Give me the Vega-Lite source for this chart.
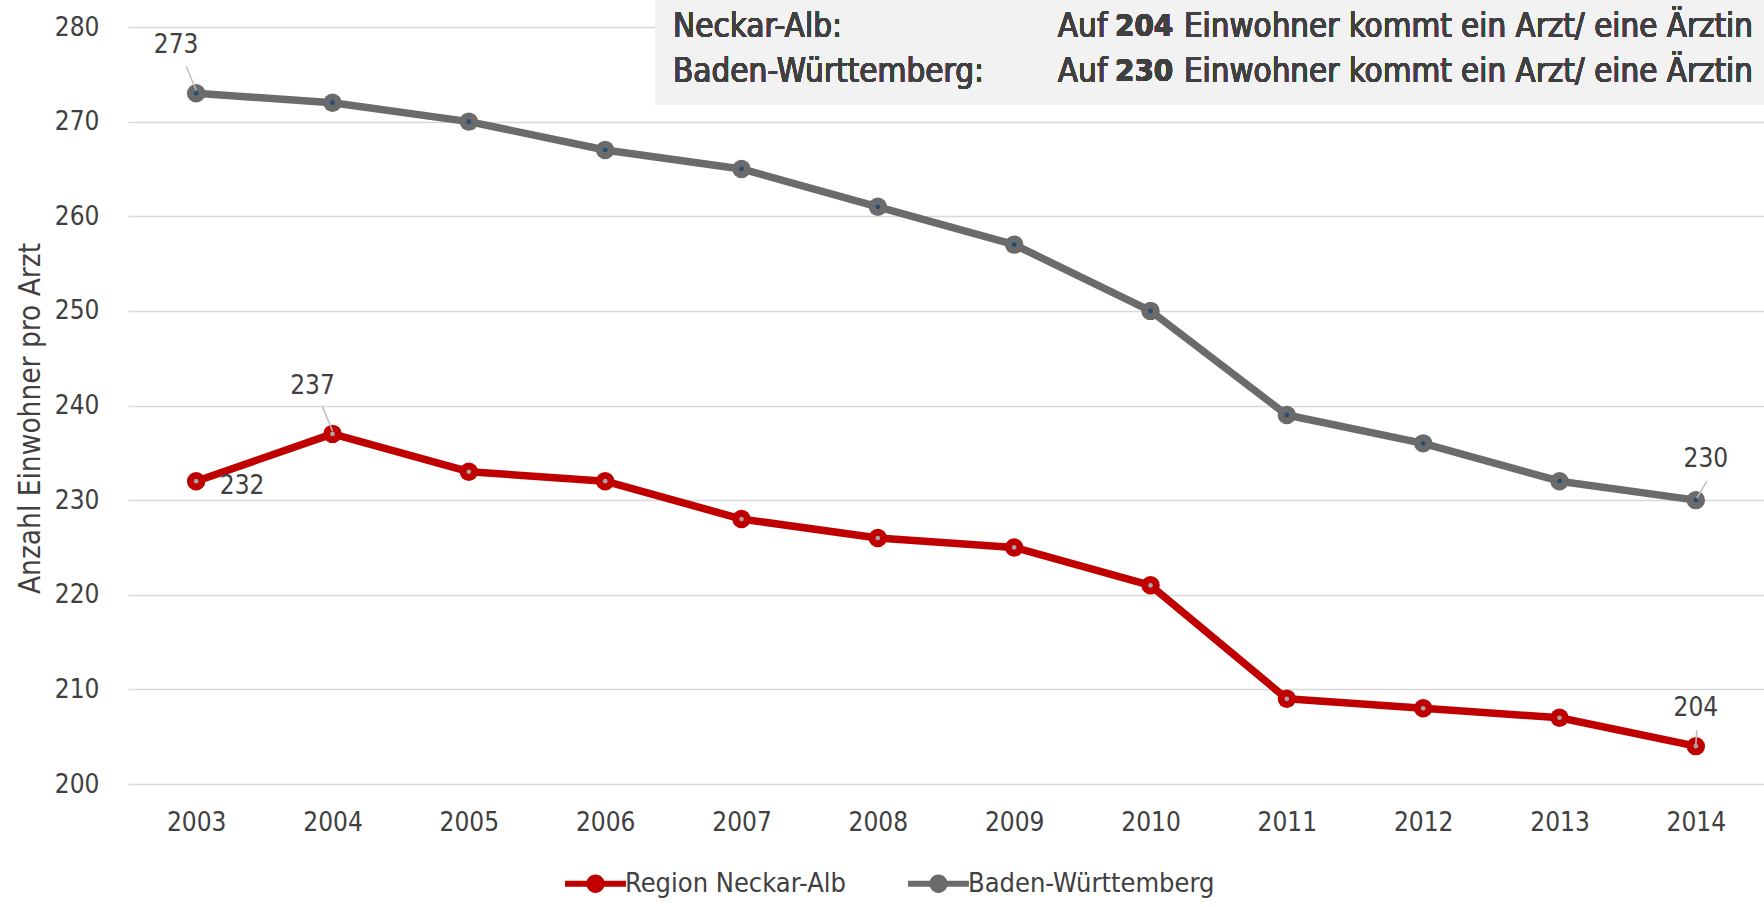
{
  "$schema": "https://vega.github.io/schema/vega-lite/v6.json",
  "width": 1636,
  "height": 757,
  "autosize": "none",
  "padding": {"left": 128, "top": 27, "right": 0, "bottom": 123},
  "background": "white",
  "config": {
    "font": "DejaVu Sans Condensed, sans-serif",
    "view": {"stroke": null},
    "axis": {"labelFont": "DejaVu Sans Condensed, sans-serif", "titleFont": "DejaVu Sans Condensed, sans-serif", "labelColor": "#404040", "titleColor": "#404040"}
  },
  "data": {
    "values": [
      {"year": 2003, "series": "Region Neckar-Alb", "value": 232},
      {"year": 2004, "series": "Region Neckar-Alb", "value": 237},
      {"year": 2005, "series": "Region Neckar-Alb", "value": 233},
      {"year": 2006, "series": "Region Neckar-Alb", "value": 232},
      {"year": 2007, "series": "Region Neckar-Alb", "value": 228},
      {"year": 2008, "series": "Region Neckar-Alb", "value": 226},
      {"year": 2009, "series": "Region Neckar-Alb", "value": 225},
      {"year": 2010, "series": "Region Neckar-Alb", "value": 221},
      {"year": 2011, "series": "Region Neckar-Alb", "value": 209},
      {"year": 2012, "series": "Region Neckar-Alb", "value": 208},
      {"year": 2013, "series": "Region Neckar-Alb", "value": 207},
      {"year": 2014, "series": "Region Neckar-Alb", "value": 204},
      {"year": 2003, "series": "Baden-Württemberg", "value": 273},
      {"year": 2004, "series": "Baden-Württemberg", "value": 272},
      {"year": 2005, "series": "Baden-Württemberg", "value": 270},
      {"year": 2006, "series": "Baden-Württemberg", "value": 267},
      {"year": 2007, "series": "Baden-Württemberg", "value": 265},
      {"year": 2008, "series": "Baden-Württemberg", "value": 261},
      {"year": 2009, "series": "Baden-Württemberg", "value": 257},
      {"year": 2010, "series": "Baden-Württemberg", "value": 250},
      {"year": 2011, "series": "Baden-Württemberg", "value": 239},
      {"year": 2012, "series": "Baden-Württemberg", "value": 236},
      {"year": 2013, "series": "Baden-Württemberg", "value": 232},
      {"year": 2014, "series": "Baden-Württemberg", "value": 230}
    ]
  },
  "encoding": {
    "x": {"field": "year", "type": "quantitative",
      "scale": {"domain": [2002.5, 2014.5], "nice": false, "zero": false},
      "axis": {"values": [2003,2004,2005,2006,2007,2008,2009,2010,2011,2012,2013,2014], "format": "d", "grid": false, "domain": false, "ticks": false, "labelFontSize": 26, "labelPadding": 25, "title": null, "labelFlush": false}},
    "y": {"field": "value", "type": "quantitative",
      "scale": {"domain": [200, 280], "nice": false, "zero": false},
      "axis": {"values": [200,210,220,230,240,250,260,270,280], "grid": true, "gridColor": "#d9d9d9", "gridWidth": 1.5, "domain": false, "ticks": false, "labelFontSize": 26, "labelPadding": 29, "title": "Anzahl Einwohner pro Arzt", "titleFontSize": 29.5, "titleFontWeight": "normal", "titlePadding": 9, "titleY": 391, "titleAlign": "center"}}
  },
  "layer": [
    {
      "mark": {"type": "rect", "color": "#f2f2f2"},
      "encoding": {
        "x": {"datum": 2006.366},
        "x2": {"datum": 2014.5},
        "y": {"datum": 283},
        "y2": {"datum": 271.76}
      }
    },
    {
      "mark": {"type": "text", "align": "left", "baseline": "middle", "fontSize": 33, "color": "#404040", "lineHeight": 45},
      "encoding": {
        "x": {"datum": 2006.497},
        "y": {"datum": 280},
        "text": {"value": ["Neckar-Alb:", "Baden-Württemberg:"]}
      }
    },
    {
      "mark": {"type": "text", "align": "left", "baseline": "middle", "fontSize": 33, "color": "#404040", "lineHeight": 45},
      "encoding": {
        "x": {"datum": 2009.32},
        "y": {"datum": 280},
        "text": {"value": ["Auf", "Auf"]}
      }
    },
    {
      "mark": {"type": "text", "align": "left", "baseline": "middle", "fontSize": 31, "fontWeight": "bold", "color": "#404040", "lineHeight": 45},
      "encoding": {
        "x": {"datum": 2009.74},
        "y": {"datum": 280},
        "text": {"value": ["204", "230"]}
      }
    },
    {
      "mark": {"type": "text", "align": "left", "baseline": "middle", "fontSize": 32.8, "color": "#404040", "lineHeight": 45},
      "encoding": {
        "x": {"datum": 2010.245},
        "y": {"datum": 280},
        "text": {"value": ["Einwohner kommt ein Arzt/ eine Ärztin", "Einwohner kommt ein Arzt/ eine Ärztin"]}
      }
    },
    {
      "mark": {"type": "line", "strokeWidth": 7.5, "strokeJoin": "round"},
      "encoding": {
        "color": {"field": "series", "type": "nominal",
          "scale": {"domain": ["Region Neckar-Alb", "Baden-Württemberg"], "range": ["#C00000", "#6B6B6B"]},
          "legend": {"orient": "none", "direction": "horizontal", "legendX": 447, "legendY": 836, "title": null,
            "labelFontSize": 27, "labelColor": "#404040", "labelFont": "DejaVu Sans Condensed, sans-serif", "labelOffset": 9, "labelLimit": 500,
            "symbolType": "M-1.5,-0.15L1.5,-0.15L1.5,0.15L-1.5,0.15Z M0.45,0A0.45,0.45 0 1,1 -0.45,0A0.45,0.45 0 1,1 0.45,0Z",
            "symbolSize": 1650, "symbolStrokeWidth": 0, "columnPadding": 62,
            "encode": {"symbols": {"update": {"fill": {"scale": "color", "field": "value"}, "strokeWidth": {"value": 0}}}}}}
      }
    },
    {
      "mark": {"type": "point", "shape": "circle", "filled": true, "size": 340, "opacity": 1},
      "encoding": {
        "color": {"field": "series", "type": "nominal", "legend": null}
      }
    },
    {
      "mark": {"type": "point", "shape": "circle", "filled": true, "size": 22, "opacity": 1},
      "encoding": {
        "color": {"field": "series", "type": "nominal", "scale": null, "legend": null},
        "fill": {"field": "series", "type": "nominal", "scale": {"domain": ["Region Neckar-Alb", "Baden-Württemberg"], "range": ["#a6a6a6", "#1f4e79"]}, "legend": null}
      }
    },
    {
      "transform": [{"filter": "(datum.year == 2003 && datum.series == 'Baden-Württemberg') || (datum.year == 2004 && datum.series == 'Region Neckar-Alb')"}],
      "mark": {"type": "rule", "color": "#bfbfbf", "strokeWidth": 1.5, "yOffset": -3, "x2Offset": -10, "y2Offset": -27},
      "encoding": {"x2": {"field": "year"}, "y2": {"field": "value"}}
    },
    {
      "transform": [{"filter": "datum.year == 2014 && datum.series == 'Baden-Württemberg'"}],
      "mark": {"type": "rule", "color": "#bfbfbf", "strokeWidth": 1.5, "xOffset": 1, "yOffset": -2, "x2Offset": 11, "y2Offset": -19},
      "encoding": {"x2": {"field": "year"}, "y2": {"field": "value"}}
    },
    {
      "transform": [{"filter": "datum.year == 2014 && datum.series == 'Region Neckar-Alb'"}],
      "mark": {"type": "rule", "color": "#bfbfbf", "strokeWidth": 1.5, "xOffset": 0, "yOffset": -2, "x2Offset": 1, "y2Offset": -16},
      "encoding": {"x2": {"field": "year"}, "y2": {"field": "value"}}
    },
    {
      "transform": [{"filter": "(datum.year == 2003 && datum.series == 'Baden-Württemberg') || (datum.year == 2004 && datum.series == 'Region Neckar-Alb')"}],
      "mark": {"type": "text", "fontSize": 26, "color": "#404040", "baseline": "middle", "dx": -20, "dy": -48},
      "encoding": {"text": {"field": "value"}}
    },
    {
      "transform": [{"filter": "datum.year == 2003 && datum.series == 'Region Neckar-Alb'"}],
      "mark": {"type": "text", "fontSize": 26, "color": "#404040", "baseline": "middle", "dx": 46, "dy": 5},
      "encoding": {"text": {"field": "value"}}
    },
    {
      "transform": [{"filter": "datum.year == 2014 && datum.series == 'Baden-Württemberg'"}],
      "mark": {"type": "text", "fontSize": 26, "color": "#404040", "baseline": "middle", "dx": 10, "dy": -41},
      "encoding": {"text": {"field": "value"}}
    },
    {
      "transform": [{"filter": "datum.year == 2014 && datum.series == 'Region Neckar-Alb'"}],
      "mark": {"type": "text", "fontSize": 26, "color": "#404040", "baseline": "middle", "dx": 0, "dy": -38},
      "encoding": {"text": {"field": "value"}}
    }
  ]
}
